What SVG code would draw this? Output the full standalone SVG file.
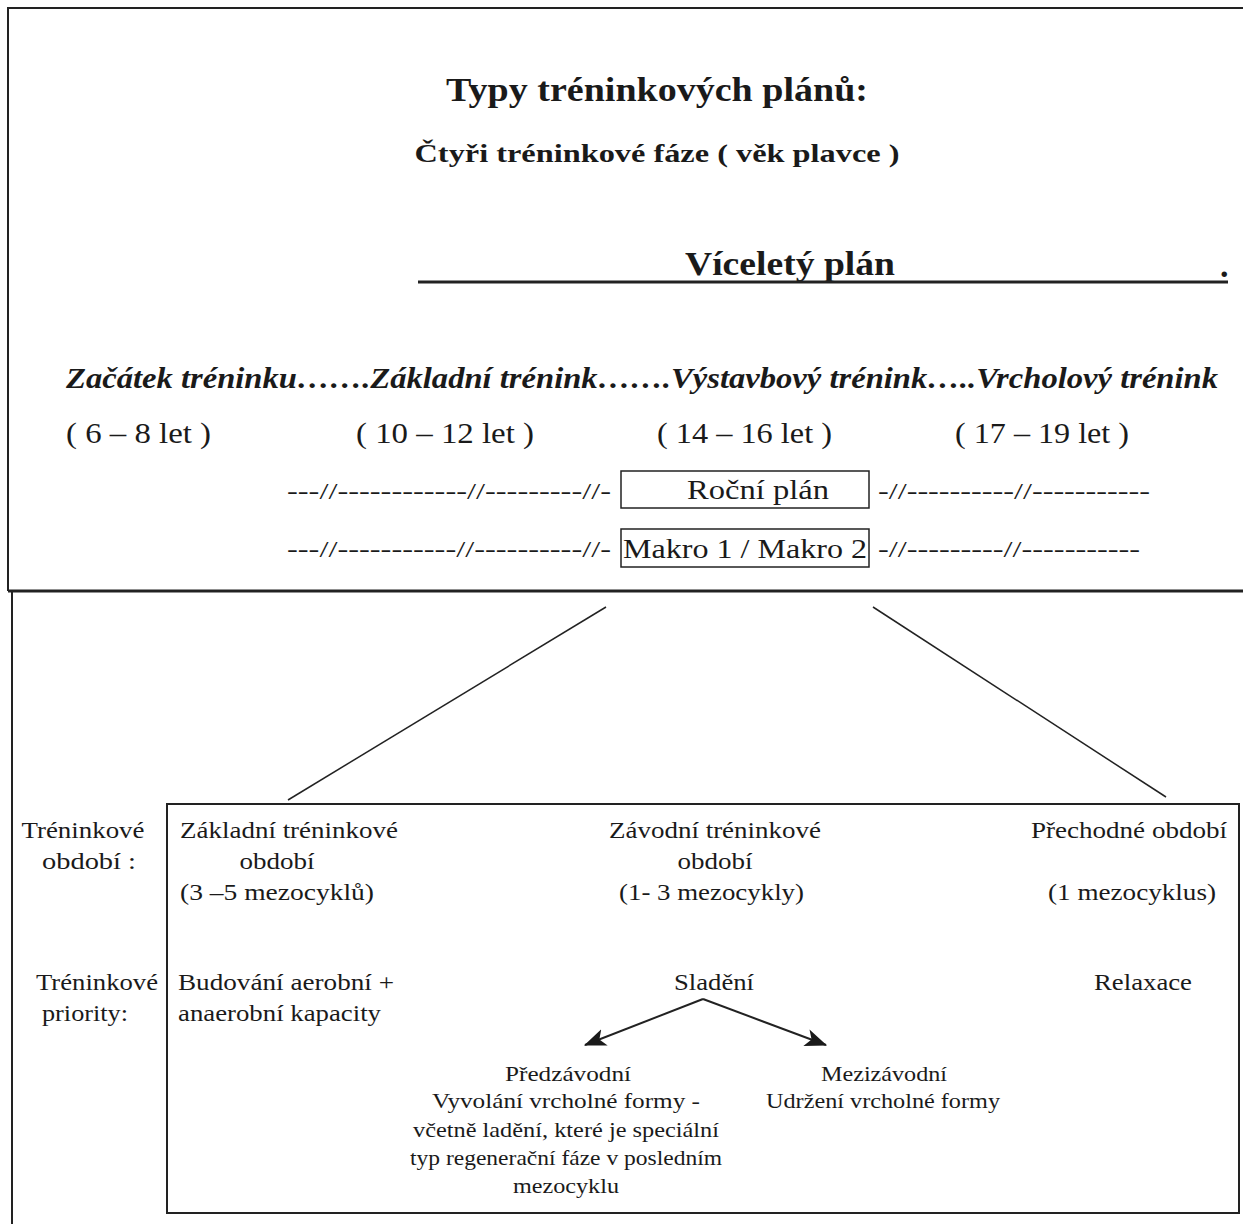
<svg xmlns="http://www.w3.org/2000/svg" width="1243" height="1224" viewBox="0 0 1243 1224">
<style>
text{font-family:'Liberation Serif','Tinos','Noto Serif','FreeSerif','Nimbus Roman','Times New Roman',Times,'DejaVu Serif Condensed',serif;fill:#1a1a1a}
.b{font-weight:bold}
.i{font-style:italic}
.ln{stroke:#222;fill:none}
</style>
<defs>
<marker id="ah2" viewBox="0 0 20 16" refX="19" refY="8" markerWidth="22" markerHeight="18" orient="auto" markerUnits="userSpaceOnUse">
<path d="M0,0 L20,8 L0,16 L5,8 Z" fill="#1a1a1a"/>
</marker>
</defs>
<rect width="1243" height="1224" fill="#fff"/>

<g id="frames">
<path class="ln" d="M1243,8 H8 V591" stroke-width="2"/>
<path class="ln" d="M8,591 H1243" stroke-width="3"/>
<path class="ln" d="M12,591 V1224" stroke-width="2"/>
</g>

<g id="header">
<text class="b" x="657" y="101" font-size="34" text-anchor="middle" textLength="422" lengthAdjust="spacingAndGlyphs">Typy tréninkových plánů:</text>
<text class="b" x="657" y="162" font-size="26" text-anchor="middle" textLength="485" lengthAdjust="spacingAndGlyphs">Čtyři tréninkové fáze ( věk plavce )</text>
</g>

<g id="viceletyPlan">
<text class="b" x="790" y="275" font-size="34" text-anchor="middle" textLength="210" lengthAdjust="spacingAndGlyphs">Víceletý plán</text>
<line class="ln" x1="418" y1="282" x2="1228" y2="282" stroke-width="3"/>
<text class="b" x="1220" y="277" font-size="34">.</text>
</g>

<g id="phases">
<text class="b i" x="66" y="388" font-size="29" textLength="1152" lengthAdjust="spacingAndGlyphs">Začátek tréninku…….Základní trénink…….Výstavbový trénink…..Vrcholový trénink</text>
<text x="66" y="443" font-size="29" textLength="145" lengthAdjust="spacingAndGlyphs">( 6 – 8 let )</text>
<text x="356" y="443" font-size="29" textLength="178" lengthAdjust="spacingAndGlyphs">( 10 – 12 let )</text>
<text x="657" y="443" font-size="29" textLength="175" lengthAdjust="spacingAndGlyphs">( 14 – 16 let )</text>
<text x="955" y="443" font-size="29" textLength="174" lengthAdjust="spacingAndGlyphs">( 17 – 19 let )</text>
</g>

<g id="rocniPlan">
<text x="287" y="499" font-size="24" textLength="324" lengthAdjust="spacingAndGlyphs">---//------------//---------//-</text>
<rect class="ln" x="621" y="471" width="248" height="37" stroke-width="1.5"/>
<text x="758" y="499" font-size="27" text-anchor="middle" textLength="142" lengthAdjust="spacingAndGlyphs">Roční plán</text>
<text x="878" y="499" font-size="24" textLength="272" lengthAdjust="spacingAndGlyphs">-//----------//-----------</text>
</g>

<g id="makro">
<text x="287" y="557" font-size="24" textLength="324" lengthAdjust="spacingAndGlyphs">---//-----------//----------//-</text>
<rect class="ln" x="621" y="529" width="248" height="38" stroke-width="1.5"/>
<text x="745" y="558" font-size="28" text-anchor="middle" textLength="244" lengthAdjust="spacingAndGlyphs">Makro 1 / Makro 2</text>
<text x="878" y="557" font-size="24" textLength="262" lengthAdjust="spacingAndGlyphs">-//---------//-----------</text>
</g>

<g id="connectors">
<line class="ln" x1="606" y1="607" x2="288" y2="800" stroke-width="1.5"/>
<line class="ln" x1="873" y1="607" x2="1166" y2="797" stroke-width="1.5"/>
<line class="ln" x1="703" y1="999" x2="585" y2="1045" stroke-width="2" marker-end="url(#ah2)"/>
<line class="ln" x1="703" y1="999" x2="826" y2="1045" stroke-width="2" marker-end="url(#ah2)"/>
</g>

<g id="rowLabels">
<text x="83" y="838" font-size="23" text-anchor="middle" textLength="123" lengthAdjust="spacingAndGlyphs">Tréninkové</text>
<text x="42" y="869" font-size="23" textLength="94" lengthAdjust="spacingAndGlyphs">období  :</text>
<text x="97" y="990" font-size="23" text-anchor="middle" textLength="122" lengthAdjust="spacingAndGlyphs">Tréninkové</text>
<text x="42" y="1021" font-size="23" textLength="86" lengthAdjust="spacingAndGlyphs">priority:</text>
</g>

<g id="periodBox">
<rect class="ln" x="167" y="804" width="1072" height="409" stroke-width="2"/>
</g>

<g id="zakladni">
<text x="180" y="838" font-size="23" textLength="218" lengthAdjust="spacingAndGlyphs">Základní tréninkové</text>
<text x="277" y="869" font-size="23" text-anchor="middle" textLength="75" lengthAdjust="spacingAndGlyphs">období</text>
<text x="180" y="900" font-size="23" textLength="194" lengthAdjust="spacingAndGlyphs">(3 –5 mezocyklů)</text>
<text x="178" y="990" font-size="23" textLength="216" lengthAdjust="spacingAndGlyphs">Budování aerobní +</text>
<text x="178" y="1021" font-size="23" textLength="203" lengthAdjust="spacingAndGlyphs">anaerobní kapacity</text>
</g>

<g id="zavodni">
<text x="609" y="838" font-size="23" textLength="212" lengthAdjust="spacingAndGlyphs">Závodní tréninkové</text>
<text x="715" y="869" font-size="23" text-anchor="middle" textLength="75" lengthAdjust="spacingAndGlyphs">období</text>
<text x="619" y="900" font-size="23" textLength="185" lengthAdjust="spacingAndGlyphs">(1- 3 mezocykly)</text>
<text x="714" y="990" font-size="23" text-anchor="middle" textLength="80" lengthAdjust="spacingAndGlyphs">Sladění</text>
</g>

<g id="prechodne">
<text x="1031" y="838" font-size="23" textLength="196" lengthAdjust="spacingAndGlyphs">Přechodné období</text>
<text x="1048" y="900" font-size="23" textLength="168" lengthAdjust="spacingAndGlyphs">(1 mezocyklus)</text>
<text x="1094" y="990" font-size="23" textLength="98" lengthAdjust="spacingAndGlyphs">Relaxace</text>
</g>

<g id="predzavodni">
<text x="568" y="1081" font-size="21" text-anchor="middle" textLength="126" lengthAdjust="spacingAndGlyphs">Předzávodní</text>
<text x="566" y="1108" font-size="21" text-anchor="middle" textLength="268" lengthAdjust="spacingAndGlyphs">Vyvolání vrcholné formy -</text>
<text x="566" y="1137" font-size="21" text-anchor="middle" textLength="306" lengthAdjust="spacingAndGlyphs">včetně ladění, které je speciální</text>
<text x="566" y="1165" font-size="21" text-anchor="middle" textLength="312" lengthAdjust="spacingAndGlyphs">typ regenerační fáze v posledním</text>
<text x="566" y="1193" font-size="21" text-anchor="middle" textLength="106" lengthAdjust="spacingAndGlyphs">mezocyklu</text>
</g>

<g id="mezizavodni">
<text x="884" y="1081" font-size="21" text-anchor="middle" textLength="126" lengthAdjust="spacingAndGlyphs">Mezizávodní</text>
<text x="883" y="1108" font-size="21" text-anchor="middle" textLength="234" lengthAdjust="spacingAndGlyphs">Udržení vrcholné formy</text>
</g>
</svg>
